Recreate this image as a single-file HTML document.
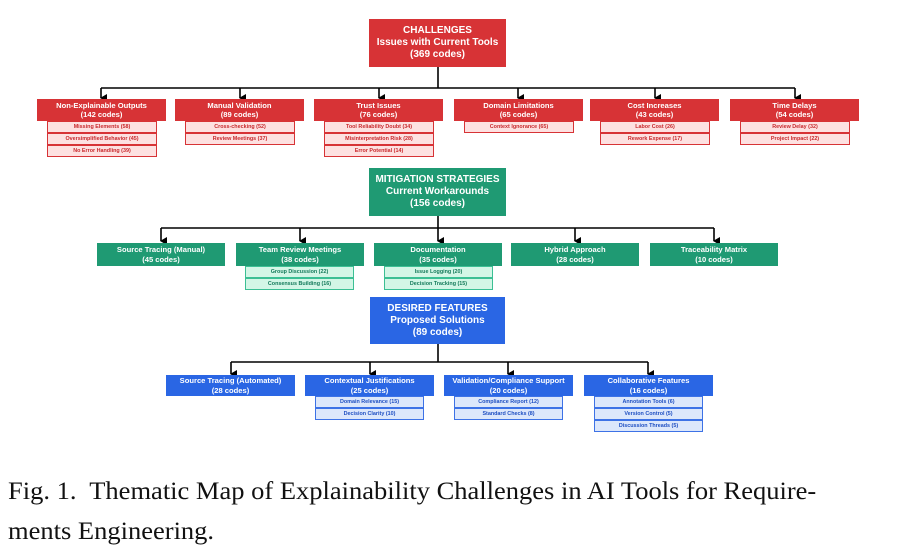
<!DOCTYPE html>
<html><head><meta charset="utf-8"><style>
body{margin:0;width:904px;height:555px;background:#fff;position:relative;overflow:hidden;font-family:"Liberation Sans",Arial,sans-serif}
.b{position:absolute;color:#fff;font-weight:bold;text-align:center;box-sizing:border-box;display:flex;flex-direction:column;justify-content:center;line-height:1.2}
.t{font-size:10px;line-height:12px}
.m{font-size:7.6px;line-height:9.5px}
.s{position:absolute;box-sizing:border-box;font-size:5.4px;font-weight:bold;text-align:center;line-height:10px;height:12px}
.r{background:#d73336}.rs{background:#fde1e1;border:1px solid #d73336;color:#c8282c}
.g{background:#1f9a73}.gs{background:#d3f6e6;border:1px solid #3cbf94;color:#137a5a}
.u{background:#2a66e4}.us{background:#dce7fb;border:1px solid #3d72e6;color:#1e4fc2}
.cap{position:absolute;left:8px;font-family:"Liberation Serif","Times New Roman",serif;font-size:25px;color:#111;white-space:pre;transform-origin:0 0}
</style></head><body>
<svg width="904" height="460" style="position:absolute;left:0;top:0">
<defs><marker id="a" markerWidth="8" markerHeight="8" refX="4" refY="6" orient="auto" markerUnits="userSpaceOnUse"><path d="M0,0 L8,0 L4,7 Z" fill="#000"/></marker></defs>
<g stroke="#000" stroke-width="1.6" fill="none">
<line x1="438" y1="67" x2="438" y2="88"/><line x1="101" y1="88" x2="795" y2="88"/>
<line x1="101" y1="88" x2="101" y2="98" marker-end="url(#a)"/><line x1="240" y1="88" x2="240" y2="98" marker-end="url(#a)"/><line x1="379" y1="88" x2="379" y2="98" marker-end="url(#a)"/><line x1="518" y1="88" x2="518" y2="98" marker-end="url(#a)"/><line x1="655" y1="88" x2="655" y2="98" marker-end="url(#a)"/><line x1="795" y1="88" x2="795" y2="98" marker-end="url(#a)"/>
<line x1="438" y1="216" x2="438" y2="228"/><line x1="161" y1="228" x2="714" y2="228"/>
<line x1="161" y1="228" x2="161" y2="241" marker-end="url(#a)"/><line x1="300" y1="228" x2="300" y2="241" marker-end="url(#a)"/><line x1="438" y1="228" x2="438" y2="241" marker-end="url(#a)"/><line x1="575" y1="228" x2="575" y2="241" marker-end="url(#a)"/><line x1="714" y1="228" x2="714" y2="241" marker-end="url(#a)"/>
<line x1="438" y1="344" x2="438" y2="362"/><line x1="231" y1="362" x2="648" y2="362"/>
<line x1="231" y1="362" x2="231" y2="374" marker-end="url(#a)"/><line x1="370" y1="362" x2="370" y2="374" marker-end="url(#a)"/><line x1="508" y1="362" x2="508" y2="374" marker-end="url(#a)"/><line x1="648" y1="362" x2="648" y2="374" marker-end="url(#a)"/>
</g></svg>

<div class="b r t" style="left:369px;top:19px;width:137px;height:48px">CHALLENGES<br>Issues with Current Tools<br>(369 codes)</div>
<div class="b r m" style="left:37px;top:99px;width:129px;height:22px">Non-Explainable Outputs<br>(142 codes)</div>
<div class="b r m" style="left:175px;top:99px;width:129px;height:22px">Manual Validation<br>(89 codes)</div>
<div class="b r m" style="left:314px;top:99px;width:129px;height:22px">Trust Issues<br>(76 codes)</div>
<div class="b r m" style="left:454px;top:99px;width:129px;height:22px">Domain Limitations<br>(65 codes)</div>
<div class="b r m" style="left:590px;top:99px;width:129px;height:22px">Cost Increases<br>(43 codes)</div>
<div class="b r m" style="left:730px;top:99px;width:129px;height:22px">Time Delays<br>(54 codes)</div>
<div class="s rs" style="left:47px;top:121px;width:110px">Missing Elements (58)</div>
<div class="s rs" style="left:47px;top:133px;width:110px">Oversimplified Behavior (45)</div>
<div class="s rs" style="left:47px;top:145px;width:110px">No Error Handling (39)</div>
<div class="s rs" style="left:185px;top:121px;width:110px">Cross-checking (52)</div>
<div class="s rs" style="left:185px;top:133px;width:110px">Review Meetings (37)</div>
<div class="s rs" style="left:324px;top:121px;width:110px">Tool Reliability Doubt (34)</div>
<div class="s rs" style="left:324px;top:133px;width:110px">Misinterpretation Risk (28)</div>
<div class="s rs" style="left:324px;top:145px;width:110px">Error Potential (14)</div>
<div class="s rs" style="left:464px;top:121px;width:110px">Context Ignorance (65)</div>
<div class="s rs" style="left:600px;top:121px;width:110px">Labor Cost (26)</div>
<div class="s rs" style="left:600px;top:133px;width:110px">Rework Expense (17)</div>
<div class="s rs" style="left:740px;top:121px;width:110px">Review Delay (32)</div>
<div class="s rs" style="left:740px;top:133px;width:110px">Project Impact (22)</div>

<div class="b g t" style="left:369px;top:168px;width:137px;height:48px">MITIGATION STRATEGIES<br>Current Workarounds<br>(156 codes)</div>
<div class="b g m" style="left:97px;top:243px;width:128px;height:23px">Source Tracing (Manual)<br>(45 codes)</div>
<div class="b g m" style="left:236px;top:243px;width:128px;height:23px">Team Review Meetings<br>(38 codes)</div>
<div class="b g m" style="left:374px;top:243px;width:128px;height:23px">Documentation<br>(35 codes)</div>
<div class="b g m" style="left:511px;top:243px;width:128px;height:23px">Hybrid Approach<br>(28 codes)</div>
<div class="b g m" style="left:650px;top:243px;width:128px;height:23px">Traceability Matrix<br>(10 codes)</div>
<div class="s gs" style="left:245px;top:266px;width:109px">Group Discussion (22)</div>
<div class="s gs" style="left:245px;top:278px;width:109px">Consensus Building (16)</div>
<div class="s gs" style="left:384px;top:266px;width:109px">Issue Logging (20)</div>
<div class="s gs" style="left:384px;top:278px;width:109px">Decision Tracking (15)</div>

<div class="b u t" style="left:370px;top:297px;width:135px;height:47px">DESIRED FEATURES<br>Proposed Solutions<br>(89 codes)</div>
<div class="b u m" style="left:166px;top:375px;width:129px;height:21px">Source Tracing (Automated)<br>(28 codes)</div>
<div class="b u m" style="left:305px;top:375px;width:129px;height:21px">Contextual Justifications<br>(25 codes)</div>
<div class="b u m" style="left:444px;top:375px;width:129px;height:21px">Validation/Compliance Support<br>(20 codes)</div>
<div class="b u m" style="left:584px;top:375px;width:129px;height:21px">Collaborative Features<br>(16 codes)</div>
<div class="s us" style="left:315px;top:396px;width:109px">Domain Relevance (15)</div>
<div class="s us" style="left:315px;top:408px;width:109px">Decision Clarity (10)</div>
<div class="s us" style="left:454px;top:396px;width:109px">Compliance Report (12)</div>
<div class="s us" style="left:454px;top:408px;width:109px">Standard Checks (8)</div>
<div class="s us" style="left:594px;top:396px;width:109px">Annotation Tools (6)</div>
<div class="s us" style="left:594px;top:408px;width:109px">Version Control (5)</div>
<div class="s us" style="left:594px;top:420px;width:109px">Discussion Threads (5)</div>

<div class="cap" style="top:478px;transform:scaleX(1.06)">Fig. 1.  Thematic Map of Explainability Challenges in AI Tools for Require-</div>
<div class="cap" style="top:518px;transform:scaleX(1.06)">ments Engineering.</div>
</body></html>
